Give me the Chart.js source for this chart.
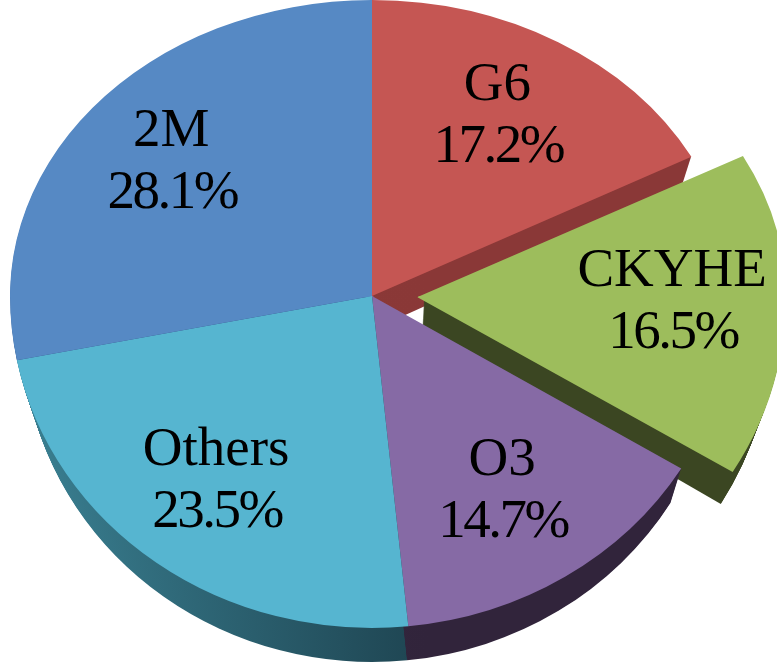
<!DOCTYPE html>
<html>
<head>
<meta charset="utf-8">
<script src="https://cdn.jsdelivr.net/npm/chart.js@4.4.0/dist/chart.umd.min.js"></script>
<style>
  html, body { margin: 0; padding: 0; background: #fff; }
  canvas { display: block; }
</style>
</head>
<body>
<canvas id="pieChart" width="777" height="663"></canvas>
<script>
// data
const categories = ['G6', 'CKYHE', 'O3', 'Others', '2M'];
const shares = [17.2, 16.5, 14.7, 23.5, 28.1];

// look
const topColors = ['#c55653', '#9dbd5c', '#866aa5', '#56b5d0', '#5689c4'];
const sideColors = [
    ['#8c3a39', '#8a3837'],
    ['#3f4b25', '#3b4622'],
    ['#3a2c46', '#31243b'],
    ['#3b8294', '#1e4451'],
    ['#2f5280', '#2f5280']
];

const CX = 372, CY = 296, R = 362;
const TILT_TOP = 296 / R;      // squash above the centre
const TILT_BOTTOM = 332 / R;   // a bit less below (fake perspective)
const DEPTH = 34;
const SHRINK = 0.001;          // bottom rim a little narrower per pixel of depth
const EXPLODE = 182;           // chart.js offset for the pulled-out slice
const LABEL_RATIO = 0.7;

function midAngle(arc) {
    return (arc.startAngle + arc.endAngle) / 2;
}

// same shift ArcElement.draw applies for options.offset
function explodeShift(arc) {
    const off = (arc.options.offset || 0) / 4;
    const circ = arc.endAngle - arc.startAngle;
    const fix = 1 - Math.sin(Math.min(Math.PI, circ));
    const m = midAngle(arc);
    return { x: Math.cos(m) * off * (1 + fix), y: Math.sin(m) * off * (1 + fix) };
}

function slicePath(ctx, arc) {
    const s = explodeShift(arc);
    const x = arc.x + s.x, y = arc.y + s.y;
    ctx.beginPath();
    ctx.moveTo(x, y);
    ctx.arc(x, y, arc.outerRadius, arc.startAngle, arc.endAngle);
    ctx.closePath();
}

// draw in upper or lower half with its own vertical squash
function withHalf(ctx, chart, cx, cy, upper, fn) {
    ctx.save();
    ctx.beginPath();
    if (upper) ctx.rect(-50, -50, chart.width + 100, cy + 51);
    else ctx.rect(-50, cy, chart.width + 100, chart.height - cy + DEPTH);
    ctx.clip();
    ctx.translate(cx, cy);
    ctx.scale(1, upper ? TILT_TOP : TILT_BOTTOM);
    ctx.translate(-cx, -cy);
    fn();
    ctx.restore();
}

function toScreen(cy, x, y) {
    const s = y < cy ? TILT_TOP : TILT_BOTTOM;
    return { x: x, y: cy + (y - cy) * s };
}

const pie3d = {
    id: 'pie3d',
    beforeDatasetsDraw(chart) {
        const ctx = chart.ctx;
        const arcs = chart.getDatasetMeta(0).data;
        const cx = arcs[0].x, cy = arcs[0].y;

        // side walls, back to front
        const order = arcs.map((a, i) => i)
            .sort((i, j) => Math.sin(midAngle(arcs[i])) - Math.sin(midAngle(arcs[j])));
        order.forEach(i => {
            const grad = ctx.createLinearGradient(0, 0, 430, 0);
            grad.addColorStop(0, sideColors[i][0]);
            grad.addColorStop(1, sideColors[i][1]);
            for (let k = DEPTH; k >= 1; k--) {
                ctx.save();
                ctx.translate(cx, k);
                ctx.scale(1 - k * SHRINK, 1);
                ctx.translate(-cx, 0);
                [true, false].forEach(up => withHalf(ctx, chart, cx, cy, up, () => {
                    slicePath(ctx, arcs[i]);
                    ctx.fillStyle = grad;
                    ctx.fill();
                }));
                ctx.restore();
            }
        });

        // top faces
        [true, false].forEach(up => withHalf(ctx, chart, cx, cy, up, () => {
            arcs.forEach(a => a.draw(ctx));
        }));
        return false;
    },
    afterDraw(chart) {
        const ctx = chart.ctx;
        const arcs = chart.getDatasetMeta(0).data;
        const cy = arcs[0].y;
        ctx.save();
        ctx.fillStyle = '#000';
        ctx.textAlign = 'center';
        ctx.textBaseline = 'alphabetic';
        ctx.font = '55px "Liberation Serif", "Times New Roman", serif';
        arcs.forEach((arc, i) => {
            const s = explodeShift(arc);
            const m = midAngle(arc);
            const r = arc.outerRadius * LABEL_RATIO;
            const p = toScreen(cy, arc.x + s.x + Math.cos(m) * r, arc.y + s.y + Math.sin(m) * r);
            ctx.letterSpacing = '0px';
            ctx.fillText(categories[i], p.x - 5, p.y - 18);
            ctx.letterSpacing = '-2.5px';
            ctx.fillText(shares[i].toFixed(1) + '%', p.x - 4, p.y + 44);
        });
        ctx.restore();
    }
};

const pieCtx = document.getElementById('pieChart').getContext('2d');
const pieChart = new Chart(pieCtx, {
    type: 'pie',
    data: {
        labels: categories,
        datasets: [{
            data: shares,
            backgroundColor: topColors,
            borderWidth: 0,
            offset: categories.map(c => c === 'CKYHE' ? EXPLODE : 0)
        }]
    },
    options: {
        responsive: false,
        animation: false,
        devicePixelRatio: 1,
        events: [],
        radius: R,
        layout: {
            padding: { left: 0, top: 0, right: 777 - 2 * CX, bottom: 663 - 2 * CY }
        },
        plugins: {
            legend: { display: false },
            tooltip: { enabled: false }
        }
    },
    plugins: [pie3d]
});
</script>
</body>
</html>
